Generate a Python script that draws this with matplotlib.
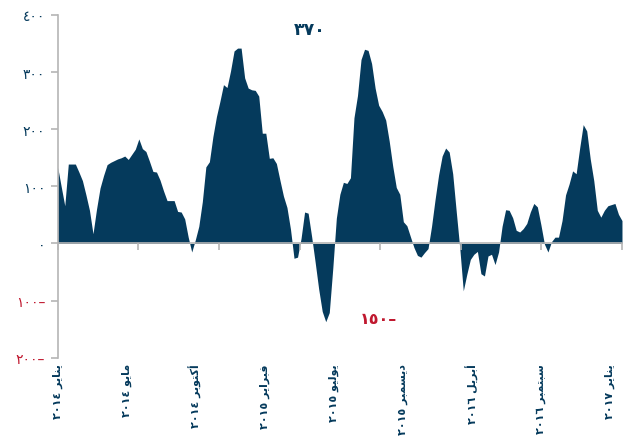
import matplotlib
matplotlib.use('Agg')
import matplotlib.pyplot as plt
import numpy as np

# weekly values (Jan 2014 .. early 2017)
values = [133, 99, 66, 139, 139, 139, 125, 110, 85, 58,
          17, 60, 97, 119, 138, 142, 145, 148, 150, 153,
          147, 156, 165, 183, 166, 161, 144, 126, 125, 111,
          92, 75, 75, 75, 56, 55, 43, 11, -15, 6,
          30, 73, 134, 143, 187, 222, 249, 278, 273, 302,
          337, 342, 342, 290, 272, 269, 268, 258, 193, 193,
          149, 150, 140, 111, 83, 63, 25, -26, -24, 9,
          55, 53, 12, -33, -80, -119, -137, -121, -43, 44,
          86, 107, 105, 115, 220, 259, 322, 340, 338, 315,
          272, 242, 231, 216, 179, 135, 98, 86, 38, 31,
          12, -7, -21, -24, -16, -9, 30, 77, 120, 153,
          167, 160, 122, 56, -8, -83, -54, -28, -19, -14,
          -53, -57, -22, -19, -37, -15, 30, 59, 58, 45,
          23, 20, 26, 35, 55, 70, 64, 33, -1, -15,
          3, 11, 11, 40, 85, 104, 127, 122, 167, 208,
          197, 148, 110, 58, 46, 58, 66, 68, 70, 51, 40]

month_names = ['يناير', 'مايو', 'أكتوبر', 'فبراير', 'يوليو',
               'ديسمبر', 'أبريل', 'سبتمبر', 'يناير']
month_years = [2014, 2014, 2014, 2015, 2015, 2015, 2016, 2016, 2017]
y_ticks = [-200, -100, 0, 100, 200, 300, 400]
peak_note = 370
trough_note = -150

navy = '#053a5c'
red = '#c0182f'
grey = '#b5b5b5'

# isolated, final, initial, medial presentation forms
FORMS = {
    'ا': ('\uFE8D', '\uFE8E', None, None),
    'أ': ('\uFE83', '\uFE84', None, None),
    'ب': ('\uFE8F', '\uFE90', '\uFE91', '\uFE92'),
    'ت': ('\uFE95', '\uFE96', '\uFE97', '\uFE98'),
    'د': ('\uFEA9', '\uFEAA', None, None),
    'ر': ('\uFEAD', '\uFEAE', None, None),
    'س': ('\uFEB1', '\uFEB2', '\uFEB3', '\uFEB4'),
    'ف': ('\uFED1', '\uFED2', '\uFED3', '\uFED4'),
    'ك': ('\uFED9', '\uFEDA', '\uFEDB', '\uFEDC'),
    'ل': ('\uFEDD', '\uFEDE', '\uFEDF', '\uFEE0'),
    'م': ('\uFEE1', '\uFEE2', '\uFEE3', '\uFEE4'),
    'ن': ('\uFEE5', '\uFEE6', '\uFEE7', '\uFEE8'),
    'و': ('\uFEED', '\uFEEE', None, None),
    'ي': ('\uFEF1', '\uFEF2', '\uFEF3', '\uFEF4'),
}


def shape(word):
    # join letters and put them in visual (left to right) order
    out = []
    for k, ch in enumerate(word):
        f = FORMS[ch]
        joins_prev = k > 0 and FORMS[word[k - 1]][2] is not None
        joins_next = k < len(word) - 1 and f[2] is not None
        if joins_prev and joins_next:
            out.append(f[3])
        elif joins_prev:
            out.append(f[1])
        elif joins_next:
            out.append(f[2])
        else:
            out.append(f[0])
    return ''.join(reversed(out))


def ar_digits(n):
    return str(n).translate(str.maketrans('0123456789', '٠١٢٣٤٥٦٧٨٩'))


def ar_number(n):
    if n < 0:
        return ar_digits(-n) + '–'
    return ar_digits(n)


fig = plt.figure(figsize=(6.33, 4.39), dpi=100)
ax = fig.add_axes([0.0912, 0.183, 0.8914, 0.7806])

x = np.arange(len(values))
ax.fill_between(x, values, 0, color=navy, lw=0)

ax.set_xlim(0, len(values) - 1)
ax.set_ylim(-200, 400)

for s in ['top', 'right']:
    ax.spines[s].set_visible(False)
ax.spines['left'].set_color(grey)
ax.spines['left'].set_linewidth(1.2)
ax.spines['bottom'].set_position(('data', 0))
ax.spines['bottom'].set_color(grey)
ax.spines['bottom'].set_linewidth(1.2)

ax.set_yticks(y_ticks)
ax.set_yticklabels([ar_number(v) for v in y_ticks])
for lab, v in zip(ax.get_yticklabels(), y_ticks):
    lab.set_color(red if v < 0 else navy)
ax.tick_params(axis='y', length=5, width=1.2, color=grey, labelsize=10, pad=4)

ax.set_xticks([])
ax.set_xticks(np.linspace(0, len(values) - 1, 8), minor=True)
ax.tick_params(axis='x', which='minor', length=5, width=1.2, color=grey,
               direction='out', labelbottom=False)

secax = ax.secondary_xaxis('bottom')
secax.spines['bottom'].set_visible(False)
secax.set_xticks(np.linspace(0, 156.7, len(month_names)))
secax.set_xticklabels([f'{ar_digits(y)} {shape(m)}' for m, y in zip(month_names, month_years)],
                      rotation=90, fontsize=8, fontweight='bold', color=navy)
secax.tick_params(length=0, pad=4)

ax.text(71.4, 375, ar_number(peak_note), ha='center', va='center',
        fontsize=12.5, fontweight='bold', color=navy)
ax.text(91, -132, ar_number(trough_note), ha='center', va='center',
        fontsize=11.5, fontweight='bold', color=red)

fig.savefig('out.png', dpi=100)
